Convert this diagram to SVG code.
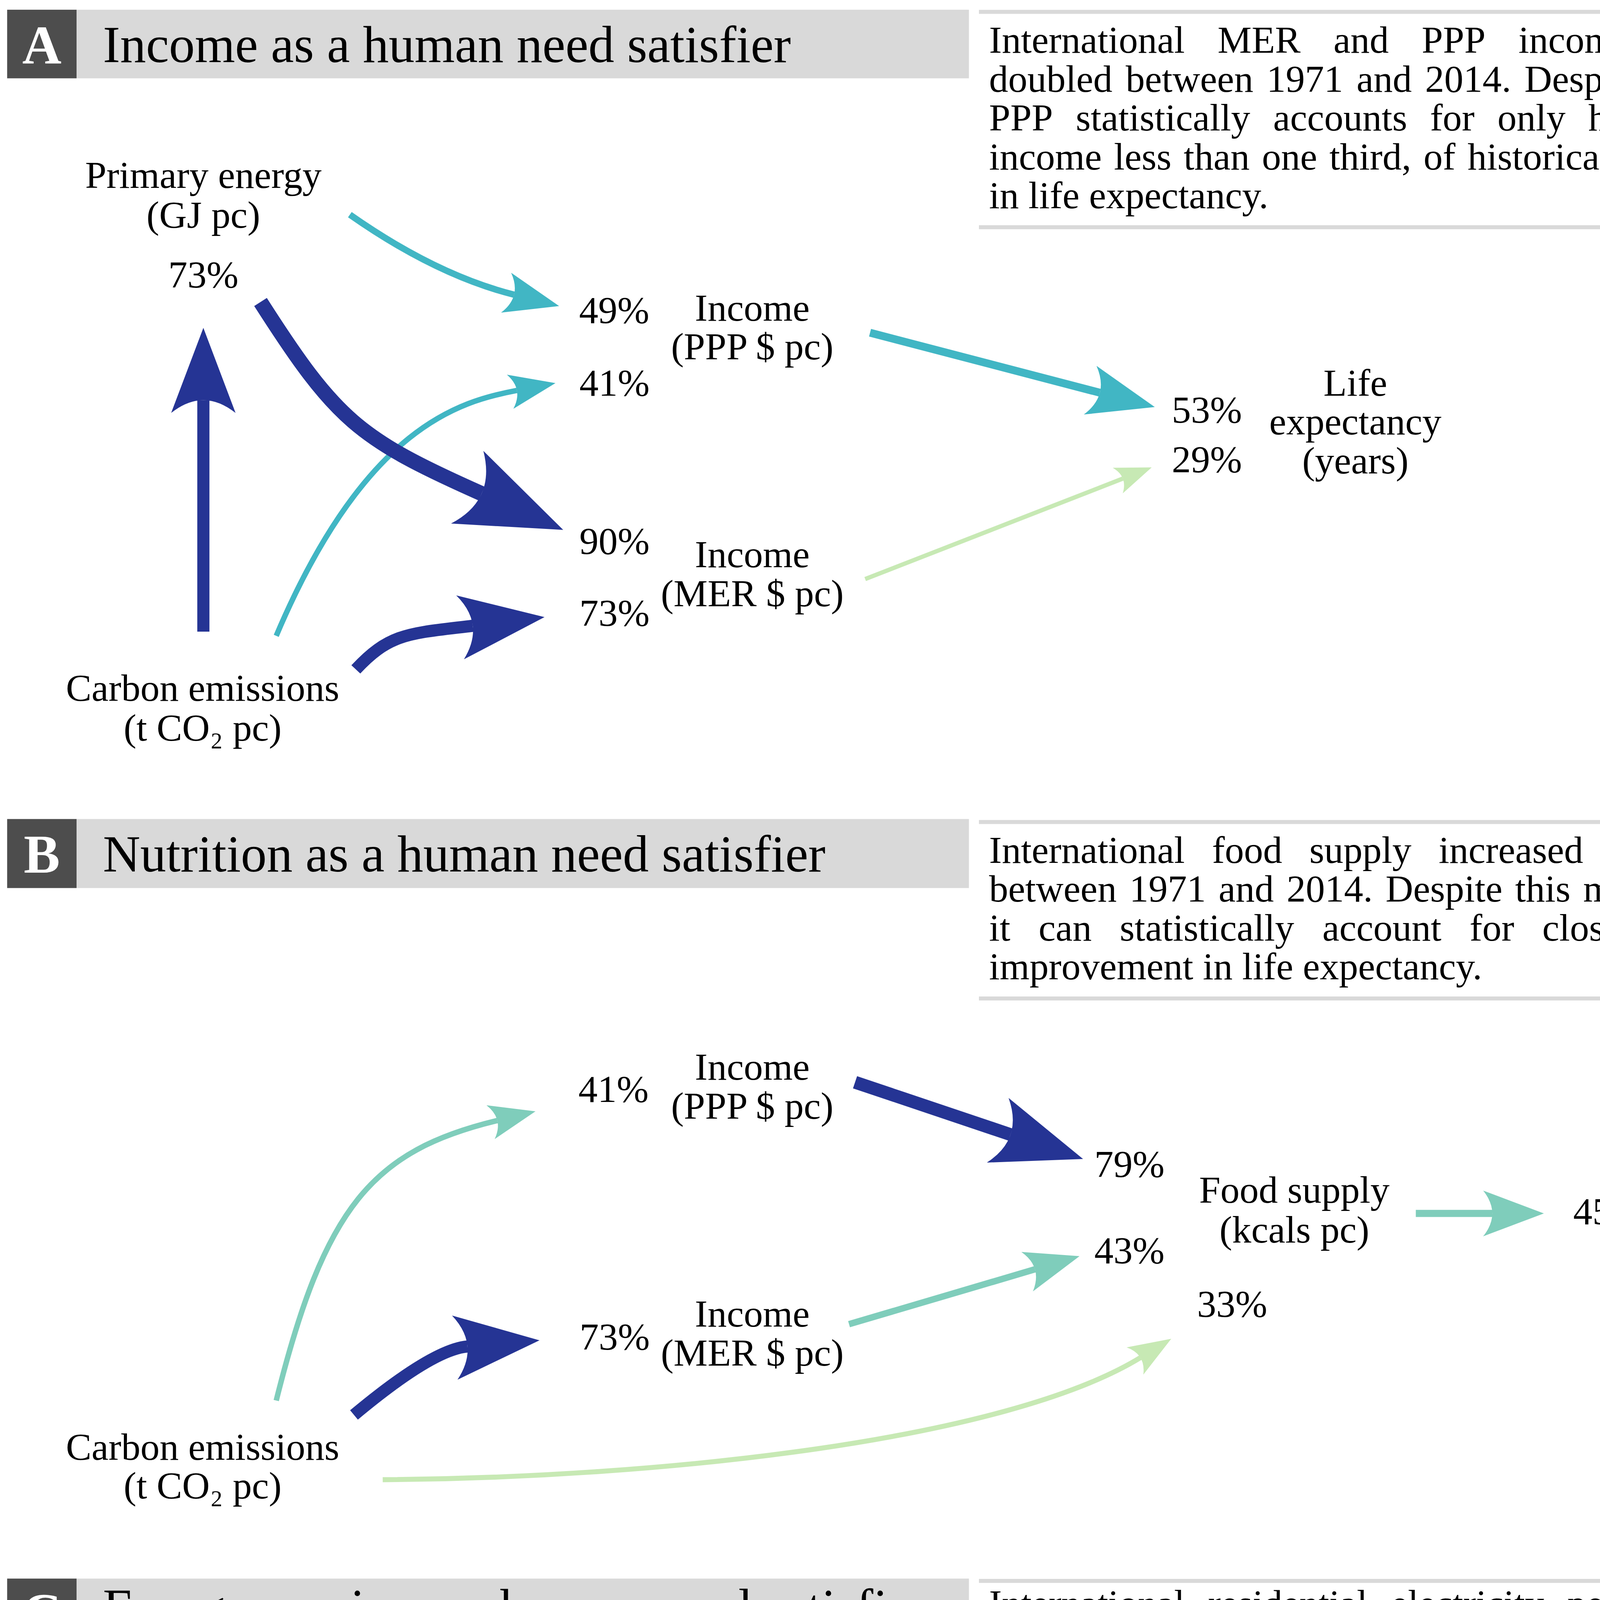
<svg xmlns="http://www.w3.org/2000/svg" width="4756" height="5755" viewBox="0 0 4756 5755">
<style>
.t{font-family:"Liberation Serif","Times New Roman",serif;font-size:26.8px;fill:#000}
.c{text-anchor:middle}
.ttl{font-family:"Liberation Serif","Times New Roman",serif;font-size:36.2px;fill:#000}
.lt{font-family:"Liberation Serif","Times New Roman",serif;font-size:38px;font-weight:bold;fill:#fff;text-anchor:middle}
.hb{fill:#d9d9d9}
.hd{fill:#4d4d4d}
.rule{stroke:#d9d9d9;stroke-width:2.8;fill:none}
.a{fill:none;stroke-linecap:butt}
.navy{stroke:#253494;marker-end:url(#mNavy)}
.teal{stroke:#41b6c4;marker-end:url(#mTeal)}
.mint{stroke:#7fcdbb;marker-end:url(#mMint)}
.green{stroke:#c7e9b4;marker-end:url(#mGreen)}
.blue{stroke:#2c7fb8;marker-end:url(#mBlue)}
</style>
<defs>
<marker id="mNavy" viewBox="0 0 10 10" refX="1.5" refY="5" markerWidth="7" markerHeight="5.3" orient="auto" preserveAspectRatio="none"><path d="M0,0 L10,5 L0,10 Q3,5 0,0 Z" fill="#253494"/></marker>
<marker id="mTeal" viewBox="0 0 10 10" refX="1.5" refY="5" markerWidth="8.5" markerHeight="6.4" orient="auto" preserveAspectRatio="none"><path d="M0,0 L10,5 L0,10 Q3,5 0,0 Z" fill="#41b6c4"/></marker>
<marker id="mMint" viewBox="0 0 10 10" refX="1.5" refY="5" markerWidth="8.5" markerHeight="6.4" orient="auto" preserveAspectRatio="none"><path d="M0,0 L10,5 L0,10 Q3,5 0,0 Z" fill="#7fcdbb"/></marker>
<marker id="mGreen" viewBox="0 0 10 10" refX="1.5" refY="5" markerWidth="8.5" markerHeight="6.4" orient="auto" preserveAspectRatio="none"><path d="M0,0 L10,5 L0,10 Q3,5 0,0 Z" fill="#c7e9b4"/></marker>
<marker id="mBlue" viewBox="0 0 10 10" refX="1.5" refY="5" markerWidth="7" markerHeight="5.1" orient="auto" preserveAspectRatio="none"><path d="M0,0 L10,5 L0,10 Q3,5 0,0 Z" fill="#2c7fb8"/></marker>
</defs>
<rect x="0" y="0" width="4756" height="5755" fill="#fff"/>
<g transform="scale(3.6585)">

<!-- Panel A header and description -->
<g id="headerA">
<rect class="hd" x="5" y="6.8" width="48.6" height="48"/>
<rect class="hb" x="53.6" y="6.8" width="624.4" height="48"/>
<text class="lt" x="29.3" y="44.6">A</text>
<text class="ttl" x="72" y="43.5">Income as a human need satisfier</text>
</g>
<g id="noteA">
<line class="rule" x1="685" y1="8.3" x2="1294" y2="8.3"/>
<line class="rule" x1="685" y1="159" x2="1294" y2="159"/>
<text class="t" y="37"><tspan x="692.1">International</tspan><tspan x="852.0">MER</tspan><tspan x="933.1">and</tspan><tspan x="994.8">PPP</tspan><tspan x="1062.5">income</tspan><tspan x="1164.4">more</tspan><tspan x="1242.4">than</tspan></text>
<text class="t" y="64.2"><tspan x="692.1">doubled</tspan><tspan x="787.7">between</tspan><tspan x="886.3">1971</tspan><tspan x="949.2">and</tspan><tspan x="997.2">2014.</tspan><tspan x="1066.7">Despite</tspan><tspan x="1157.9">this</tspan><tspan x="1205.9">growth,</tspan></text>
<text class="t" y="91.4"><tspan x="692.1">PPP</tspan><tspan x="752.8">statistically</tspan><tspan x="890.9">accounts</tspan><tspan x="1000.6">for</tspan><tspan x="1047.8">only</tspan><tspan x="1111.4">half,</tspan><tspan x="1175.8">and</tspan><tspan x="1230.5">MER</tspan></text>
<text class="t" y="118.6"><tspan x="692.1">income</tspan><tspan x="779.5">less</tspan><tspan x="828.3">than</tspan><tspan x="883.0">one</tspan><tspan x="930.2">third,</tspan><tspan x="996.1">of</tspan><tspan x="1026.9">historical</tspan><tspan x="1135.2">improvements</tspan></text>
<text class="t" x="692.1" y="145.8">in life expectancy.</text>
</g>

<!-- Panel B header and description -->
<g id="headerB">
<rect class="hd" x="5" y="573.1" width="48.6" height="48.3"/>
<rect class="hb" x="53.6" y="573.1" width="624.4" height="48.3"/>
<text class="lt" x="29.3" y="610.6">B</text>
<text class="ttl" x="72" y="609.8">Nutrition as a human need satisfier</text>
</g>
<g id="noteB">
<line class="rule" x1="685" y1="575.2" x2="1294" y2="575.2"/>
<line class="rule" x1="685" y1="698.7" x2="1294" y2="698.7"/>
<text class="t" y="603.7"><tspan x="692.1">International</tspan><tspan x="848.1">food</tspan><tspan x="916.2">supply</tspan><tspan x="1006.7">increased</tspan><tspan x="1126.9">by</tspan><tspan x="1172.7">only</tspan><tspan x="1239.4">18%</tspan></text>
<text class="t" y="630.9"><tspan x="692.1">between</tspan><tspan x="790.3">1971</tspan><tspan x="852.7">and</tspan><tspan x="900.3">2014.</tspan><tspan x="969.5">Despite</tspan><tspan x="1060.2">this</tspan><tspan x="1107.8">modest</tspan><tspan x="1194.1">increase,</tspan></text>
<text class="t" y="658.1"><tspan x="692.1">it</tspan><tspan x="726.7">can</tspan><tspan x="783.5">statistically</tspan><tspan x="925.3">account</tspan><tspan x="1028.3">for</tspan><tspan x="1079.2">close</tspan><tspan x="1153.9">to</tspan><tspan x="1194.4">half</tspan><tspan x="1255.8">the</tspan></text>
<text class="t" x="692.1" y="685.3">improvement in life expectancy.</text>
</g>

<!-- Panel C header and description -->
<g id="headerC">
<rect class="hd" x="5" y="1104.6" width="48.6" height="47.8"/>
<rect class="hb" x="53.6" y="1104.6" width="624.4" height="47.8"/>
<text class="lt" x="29.3" y="1141.5">C</text>
<text class="ttl" x="72" y="1137">Energy services as human need satisfiers</text>
</g>
<g id="noteC">
<line class="rule" x1="685" y1="1106.2" x2="1294" y2="1106.2"/>
<line class="rule" x1="685" y1="1228.2" x2="1294" y2="1228.2"/>
<text class="t" y="1131"><tspan x="692.1">International</tspan><tspan x="845.3">residential</tspan><tspan x="973.3">electricity</tspan><tspan x="1096.7">per</tspan><tspan x="1147.2">capita</tspan><tspan x="1227.5">usage</tspan></text>
<text class="t" y="1158.3"><tspan x="692.1">almost</tspan><tspan x="783.2">tripled</tspan><tspan x="872.8">between</tspan><tspan x="981.7">1971</tspan><tspan x="1054.9">and</tspan><tspan x="1113.2">2014,</tspan><tspan x="1193.1">and</tspan><tspan x="1251.4">can</tspan></text>
<text class="t" y="1185.6"><tspan x="692.1">statistically</tspan><tspan x="825.4">account</tspan><tspan x="919.9">for</tspan><tspan x="962.4">60%</tspan><tspan x="1022.7">of</tspan><tspan x="1056.2">improvements</tspan><tspan x="1220.8">in</tspan><tspan x="1252.8">life</tspan></text>
<text class="t" x="692.1" y="1212.8">expectancy.</text>
</g>

<!-- Connectors -->
<g id="connectors">
<path class="a teal" stroke-width="4.5" d="M244.8,150.2 Q305,192.4 359.7,206.2"/>
<path class="a teal" stroke-width="3.8" d="M193.3,444.9 C255.7,297.7 322.4,280.7 361.7,273.2"/>
<path class="a navy" stroke-width="10.5" d="M182.3,211.3 C234.9,293.6 250.4,306.9 337,345.4"/>
<path class="a navy" stroke-width="8.5" d="M142.3,442 L142.3,280"/>
<path class="a navy" stroke-width="8.5" d="M249,468.4 C272.9,442.8 286.1,443.3 330.8,437.9"/>
<path class="a teal" stroke-width="5.5" d="M608.8,232.8 L769.6,274.8"/>
<path class="a green" stroke-width="3" d="M605.4,405.2 L785.7,334.9"/>

<path class="a mint" stroke-width="3.8" d="M193.3,980 C227.2,844.2 260.5,805.2 348,784.1"/>
<path class="a navy" stroke-width="8.5" d="M247.7,990.1 Q302.6,944.3 327.1,942.2"/>
<path class="a green" stroke-width="3.5" d="M267.8,1035.4 C467.8,1034 704.5,1007.2 798,950"/>
<path class="a navy" stroke-width="9" d="M598.3,757.3 L707.1,793.9"/>
<path class="a mint" stroke-width="4.5" d="M594.1,926.6 L724.2,888.2"/>
<path class="a mint" stroke-width="5" d="M990.7,849.1 L1044.2,849.1"/>

<path class="a mint" stroke-width="4.5" d="M244.6,1250.8 C500,1250 673.3,1283.9 767.7,1340.3"/>
<path class="a teal" stroke-width="4.5" d="M244.8,1289.7 Q305,1331.9 359.7,1345.7"/>
<path class="a navy" stroke-width="10.5" d="M166.1,1326.3 C233.2,1439.5 250,1456.4 333.7,1495.1"/>
<path class="a navy" stroke-width="9.5" d="M596.2,1358 L680.7,1391.3"/>
<path class="a teal" stroke-width="4.5" d="M596.2,1522 L699.8,1488.3"/>
<path class="a blue" stroke-width="7" d="M978.4,1445.5 L1029.1,1445.5"/>
</g>

<!-- Panel A nodes -->
<g id="A-primary-energy">
<text class="t c" x="142.3" y="131.6">Primary energy</text>
<text class="t c" x="142.3" y="159.3">(GJ pc)</text>
<text class="t c" x="142.3" y="201.2">73%</text>
</g>
<g id="A-carbon">
<text class="t c" x="141.8" y="490.5">Carbon emissions</text>
<text class="t c" x="141.8" y="518.3">(t CO₂ pc)</text>
</g>
<g id="A-income-ppp">
<text class="t c" x="429.8" y="226">49%</text>
<text class="t c" x="430" y="277">41%</text>
<text class="t c" x="526.4" y="224.3">Income</text>
<text class="t c" x="526.4" y="251.5">(PPP $ pc)</text>
</g>
<g id="A-income-mer">
<text class="t c" x="430" y="387.5">90%</text>
<text class="t c" x="430" y="437.8">73%</text>
<text class="t c" x="526.4" y="397">Income</text>
<text class="t c" x="526.4" y="424.2">(MER $ pc)</text>
</g>
<g id="A-life">
<text class="t c" x="844.5" y="295.7">53%</text>
<text class="t c" x="844.5" y="330.4">29%</text>
<text class="t c" x="948.4" y="277">Life</text>
<text class="t c" x="948.4" y="304">expectancy</text>
<text class="t c" x="948.4" y="331.4">(years)</text>
</g>

<!-- Panel B nodes -->
<g id="B-income-ppp">
<text class="t c" x="429.3" y="771">41%</text>
<text class="t c" x="526.4" y="755.6">Income</text>
<text class="t c" x="526.4" y="782.8">(PPP $ pc)</text>
</g>
<g id="B-income-mer">
<text class="t c" x="430.1" y="944.3">73%</text>
<text class="t c" x="526.4" y="928.3">Income</text>
<text class="t c" x="526.4" y="955.5">(MER $ pc)</text>
</g>
<g id="B-carbon">
<text class="t c" x="141.8" y="1021.4">Carbon emissions</text>
<text class="t c" x="141.8" y="1048.6">(t CO₂ pc)</text>
</g>
<g id="B-food">
<text class="t c" x="790.3" y="823.6">79%</text>
<text class="t c" x="790.3" y="884.1">43%</text>
<text class="t c" x="862.2" y="921.5">33%</text>
<text class="t c" x="905.7" y="841.6">Food supply</text>
<text class="t c" x="905.7" y="869.5">(kcals pc)</text>
</g>
<g id="B-life">
<text class="t c" x="1125.4" y="856.6">45%</text>
<text class="t c" x="1223.6" y="828">Life</text>
<text class="t c" x="1223.6" y="855.3">expectancy</text>
<text class="t c" x="1223.6" y="882.6">(years)</text>
</g>

<!-- Panel C nodes -->
<g id="C-primary-energy">
<text class="t c" x="130" y="1258.8">Primary energy</text>
<text class="t c" x="130" y="1286.3">(GJ pc)</text>
</g>
<g id="C-income-ppp">
<text class="t c" x="430.1" y="1361.9">49%</text>
<text class="t c" x="526.4" y="1354.8">Income</text>
<text class="t c" x="526.4" y="1381.3">(PPP $ pc)</text>
</g>
<g id="C-income-mer">
<text class="t c" x="430.1" y="1532.6">90%</text>
<text class="t c" x="526.4" y="1527.8">Income</text>
<text class="t c" x="526.4" y="1554.3">(MER $ pc)</text>
</g>
<g id="C-residential">
<text class="t c" x="829.8" y="1380.8">44%</text>
<text class="t c" x="766" y="1423.7">82%</text>
<text class="t c" x="765.2" y="1484.8">46%</text>
<text class="t c" x="893.4" y="1424.4">Residential</text>
<text class="t c" x="893.4" y="1451.8">electricity</text>
<text class="t c" x="893.4" y="1479">(GJ pc)</text>
</g>
<g id="C-life">
<text class="t c" x="1114.3" y="1453.4">60%</text>
<text class="t c" x="1211.3" y="1424.3">Life</text>
<text class="t c" x="1211.3" y="1452.4">expectancy</text>
<text class="t c" x="1211.3" y="1479">(years)</text>
</g>
</g>
</svg>
